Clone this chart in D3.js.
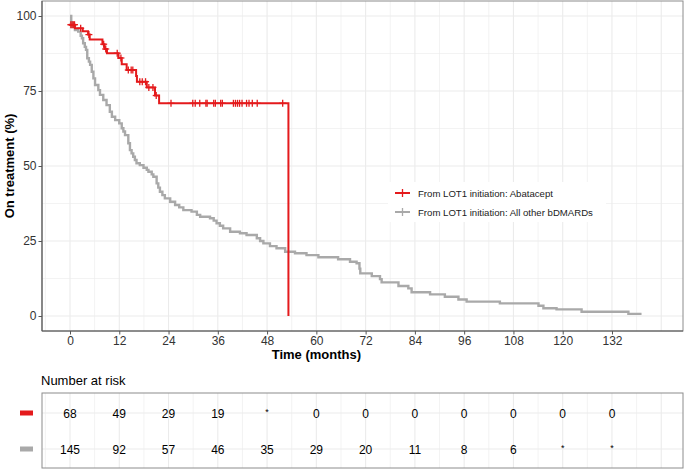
<!DOCTYPE html>
<html>
<head>
<meta charset="utf-8">
<script src="https://cdn.jsdelivr.net/npm/d3@7"></script>
<style>
body{margin:0;background:#fff;}
svg{display:block;font-family:"Liberation Sans",Arial,sans-serif;}
</style>
</head>
<body>
<svg id="chart" width="685" height="470"></svg>
<script>
// ---------- data ----------
const seriesNames = ["From LOT1 initiation: Abatacept", "From LOT1 initiation: All other bDMARDs"];
const seriesColors = ["#e41a1c", "#a9a9a9"];

// Abatacept step points (time in months, % on treatment)
const abaTimes = [-0.3, 1.2, 3.1, 4.4, 4.8, 7.9, 8.4, 9.0, 11.8, 12.6, 13.8, 16.1, 16.3, 18.7, 20.7, 21.7, 53.2, 53.2];
const abaSurv  = [97.1, 95.9, 94.9, 93.8, 92.2, 90.6, 89.0, 87.6, 86.0, 83.9, 82.0, 80.0, 78.1, 76.2, 73.5, 70.9, 70.9, 0];
const abaCensor = [0.2, 0.5, 0.8, 1.1, 2.6, 4.6, 8.2, 8.7, 11.5, 12.4, 14.2, 14.9, 15.3, 17.0, 17.6, 18.4, 19.2, 20.2, 21.0,
  24.6, 29.9, 30.5, 31.6, 33.1, 33.4, 35.0, 35.4, 36.7, 37.1, 39.8, 40.3, 40.8, 41.3, 41.9, 43.0, 43.6, 44.4, 45.6, 51.8];

// All other bDMARDs step points
const othTimes = [0, 0.3, 0.5, 1.2, 2.0, 2.6, 2.9, 3.2, 3.6, 3.9, 4.2, 4.6, 4.9, 5.3, 5.7, 6.1, 6.9, 7.3, 8.1, 8.9, 9.7, 10.2, 11.0,
  12.0, 12.6, 13.0, 13.4, 14.2, 14.6, 15.0, 15.4, 15.8, 16.2, 17.0, 17.9, 18.7, 19.1, 19.9, 20.3, 21.1, 21.5, 21.9, 22.5, 23.1,
  24.4, 25.6, 26.6, 27.6, 29.6, 30.9, 31.7, 34.1, 35.0, 35.7, 36.5, 37.3, 39.0, 41.4, 43.0, 45.5, 46.3, 47.1, 48.7, 50.3, 52.4,
  54.8, 57.6, 60.5, 65.3, 68.2, 69.8, 70.5, 70.7, 73.5, 75.5, 75.9, 80.0, 82.4, 83.2, 87.7, 91.3, 94.6, 96.6, 104.7, 114.1,
  115.3, 118.5, 124.6, 136.0, 139.2];
const othSurv = [100, 97.9, 96.4, 95.3, 94.8, 93.4, 92.6, 90.9, 89.7, 88.7, 85.9, 84.8, 83.7, 81.4, 79.2, 77.0, 75.3, 73.7, 72.0,
  70.3, 68.1, 66.4, 65.3, 64.2, 62.6, 61.5, 60.3, 57.6, 55.3, 54.2, 53.1, 52.0, 50.9, 50.3, 49.4, 48.7, 48.1, 47.2, 46.4, 44.2,
  42.8, 41.4, 40.3, 39.2, 38.1, 37.0, 36.2, 35.3, 34.8, 33.7, 33.1, 32.6, 31.8, 30.9, 30.1, 29.2, 28.1, 27.6, 27.0, 25.9, 25.0,
  24.2, 23.3, 22.6, 21.4, 20.9, 20.3, 19.6, 18.9, 18.1, 17.6, 15.8, 14.2, 13.3, 12.3, 11.2, 10.0, 9.2, 7.9, 7.2, 6.4, 5.5, 4.8,
  4.2, 3.4, 2.6, 2.2, 1.4, 0.7, 0.7];

const xTicks = [0, 12, 24, 36, 48, 60, 72, 84, 96, 108, 120, 132];
const yTicks = [0, 25, 50, 75, 100];
const riskAba = ["68", "49", "29", "19", "*", "0", "0", "0", "0", "0", "0", "0"];
const riskOth = ["145", "92", "57", "46", "35", "29", "20", "11", "8", "6", "*", "*"];

// ---------- layout ----------
const svg = d3.select("#chart");
const P = {l: 42, r: 683, t: 1, b: 331};
const x = d3.scaleLinear().domain([-6.82, 149.3]).range([P.l, P.r]);
const y = d3.scaleLinear().domain([-5, 105]).range([P.b, P.t]);
const gridCol = "#ebebeb";

// grid main panel
const minorX = d3.range(-6, 150, 6).filter(v => v % 12 !== 0);
const minorY = [12.5, 37.5, 62.5, 87.5];
const g = svg.append("g");
g.selectAll(".mx").data(minorX).enter().append("line")
  .attr("x1", d => x(d)).attr("x2", d => x(d)).attr("y1", P.t).attr("y2", P.b)
  .attr("stroke", gridCol).attr("stroke-width", 0.6);
g.selectAll(".my").data(minorY).enter().append("line")
  .attr("x1", P.l).attr("x2", P.r).attr("y1", d => y(d)).attr("y2", d => y(d))
  .attr("stroke", gridCol).attr("stroke-width", 0.6);
g.selectAll(".Mx").data(d3.range(0, 150, 12)).enter().append("line")
  .attr("x1", d => x(d)).attr("x2", d => x(d)).attr("y1", P.t).attr("y2", P.b)
  .attr("stroke", gridCol).attr("stroke-width", 1.1);
g.selectAll(".My").data(yTicks).enter().append("line")
  .attr("x1", P.l).attr("x2", P.r).attr("y1", d => y(d)).attr("y2", d => y(d))
  .attr("stroke", gridCol).attr("stroke-width", 1.1);

// curves
const line = d3.line().x(d => x(d[0])).y(d => y(d[1])).curve(d3.curveStepAfter);
const othPts = othTimes.map((t, i) => [t, othSurv[i]]);
const abaPts = abaTimes.map((t, i) => [t, abaSurv[i]]);
svg.append("path").attr("d", line(othPts)).attr("fill", "none")
  .attr("stroke", seriesColors[1]).attr("stroke-width", 2.4);
svg.append("path").attr("d", line(abaPts)).attr("fill", "none")
  .attr("stroke", seriesColors[0]).attr("stroke-width", 2);

function survAt(t) {
  let s = abaSurv[0];
  for (let i = 0; i < abaTimes.length; i++) { if (abaTimes[i] <= t) s = abaSurv[i]; }
  return s;
}
const cg = svg.append("g").attr("stroke", seriesColors[0]).attr("stroke-width", 1.3);
abaCensor.forEach(t => {
  const cx = x(t), cy = y(survAt(t));
  cg.append("line").attr("x1", cx).attr("x2", cx).attr("y1", cy - 3.5).attr("y2", cy + 3.5);
  cg.append("line").attr("x1", cx - 3.5).attr("x2", cx + 3.5).attr("y1", cy).attr("y2", cy);
});

// panel border + axes
svg.append("rect").attr("x", P.l).attr("y", P.t).attr("width", P.r - P.l).attr("height", P.b - P.t)
  .attr("fill", "none").attr("stroke", "#8c8c8c").attr("stroke-width", 1);
svg.append("line").attr("x1", P.l).attr("x2", P.l).attr("y1", P.t).attr("y2", P.b).attr("stroke", "#555").attr("stroke-width", 1.1);
svg.append("line").attr("x1", P.l).attr("x2", P.r).attr("y1", P.b).attr("y2", P.b).attr("stroke", "#555").attr("stroke-width", 1.1);

const xAxis = svg.append("g").attr("transform", `translate(0,${P.b})`)
  .call(d3.axisBottom(x).tickValues(xTicks).tickSize(3.5).tickPadding(2).tickFormat(d3.format("d")));
const yAxis = svg.append("g").attr("transform", `translate(${P.l},0)`)
  .call(d3.axisLeft(y).tickValues(yTicks).tickSize(3.5).tickPadding(2).tickFormat(d3.format("d")));
[xAxis, yAxis].forEach(a => {
  a.select(".domain").remove();
  a.selectAll(".tick line").attr("stroke", "#555");
  a.selectAll(".tick text").attr("fill", "#333").style("font-size", "12px")
    .style("font-family", "'Liberation Sans',Arial,sans-serif");
});

svg.append("text").attr("x", x(60)).attr("y", 359).attr("text-anchor", "middle")
  .style("font-size", "13px").style("font-weight", "bold").attr("fill", "#000").text("Time (months)");
svg.append("text").attr("transform", `translate(14,${y(50)}) rotate(-90)`).attr("text-anchor", "middle")
  .style("font-size", "13px").style("font-weight", "bold").attr("fill", "#000").text("On treatment (%)");

// legend
const lg = svg.append("g");
lg.append("rect").attr("x", 388).attr("y", 182).attr("width", 218).attr("height", 40).attr("fill", "#fff");
seriesNames.forEach((name, i) => {
  const ly = 193 + i * 19;
  lg.append("line").attr("x1", 395).attr("x2", 410).attr("y1", ly).attr("y2", ly)
    .attr("stroke", seriesColors[i]).attr("stroke-width", 2);
  lg.append("line").attr("x1", 402.5).attr("x2", 402.5).attr("y1", ly - 4).attr("y2", ly + 4)
    .attr("stroke", seriesColors[i]).attr("stroke-width", 1.3);
  lg.append("text").attr("x", 418).attr("y", ly + 3.5).style("font-size", "9.6px").attr("fill", "#222").text(name);
});

// ---------- risk table ----------
const R = {t: 393, b: 468};
const ry = d3.scalePoint().domain([0, 1]).range([413, 449]);
svg.append("text").attr("x", 41).attr("y", 385).style("font-size", "13px").attr("fill", "#000").text("Number at risk");
const rg = svg.append("g");
rg.selectAll(".rv").data(d3.range(-6, 150, 6)).enter().append("line")
  .attr("x1", d => x(d)).attr("x2", d => x(d)).attr("y1", R.t).attr("y2", R.b)
  .attr("stroke", gridCol).attr("stroke-width", d => d % 12 === 0 ? 1.1 : 0.6);
rg.selectAll(".rh").data([0, 1]).enter().append("line")
  .attr("x1", P.l).attr("x2", P.r).attr("y1", d => ry(d)).attr("y2", d => ry(d))
  .attr("stroke", gridCol).attr("stroke-width", 1.1);
svg.append("rect").attr("x", P.l).attr("y", R.t).attr("width", P.r - P.l).attr("height", R.b - R.t)
  .attr("fill", "none").attr("stroke", "#8c8c8c").attr("stroke-width", 1);
[riskAba, riskOth].forEach((row, i) => {
  svg.append("rect").attr("x", 20).attr("y", ry(i) - 2.5).attr("width", 13).attr("height", 5).attr("fill", seriesColors[i]);
  svg.append("g").selectAll("text").data(row).enter().append("text")
    .attr("x", (d, j) => x(xTicks[j])).attr("y", d => ry(i) + (d === "*" ? 2 : 4.5))
    .attr("text-anchor", "middle").style("font-size", d => d === "*" ? "9px" : "12px")
    .attr("fill", "#000").text(d => d);
});
</script>
</body>
</html>
